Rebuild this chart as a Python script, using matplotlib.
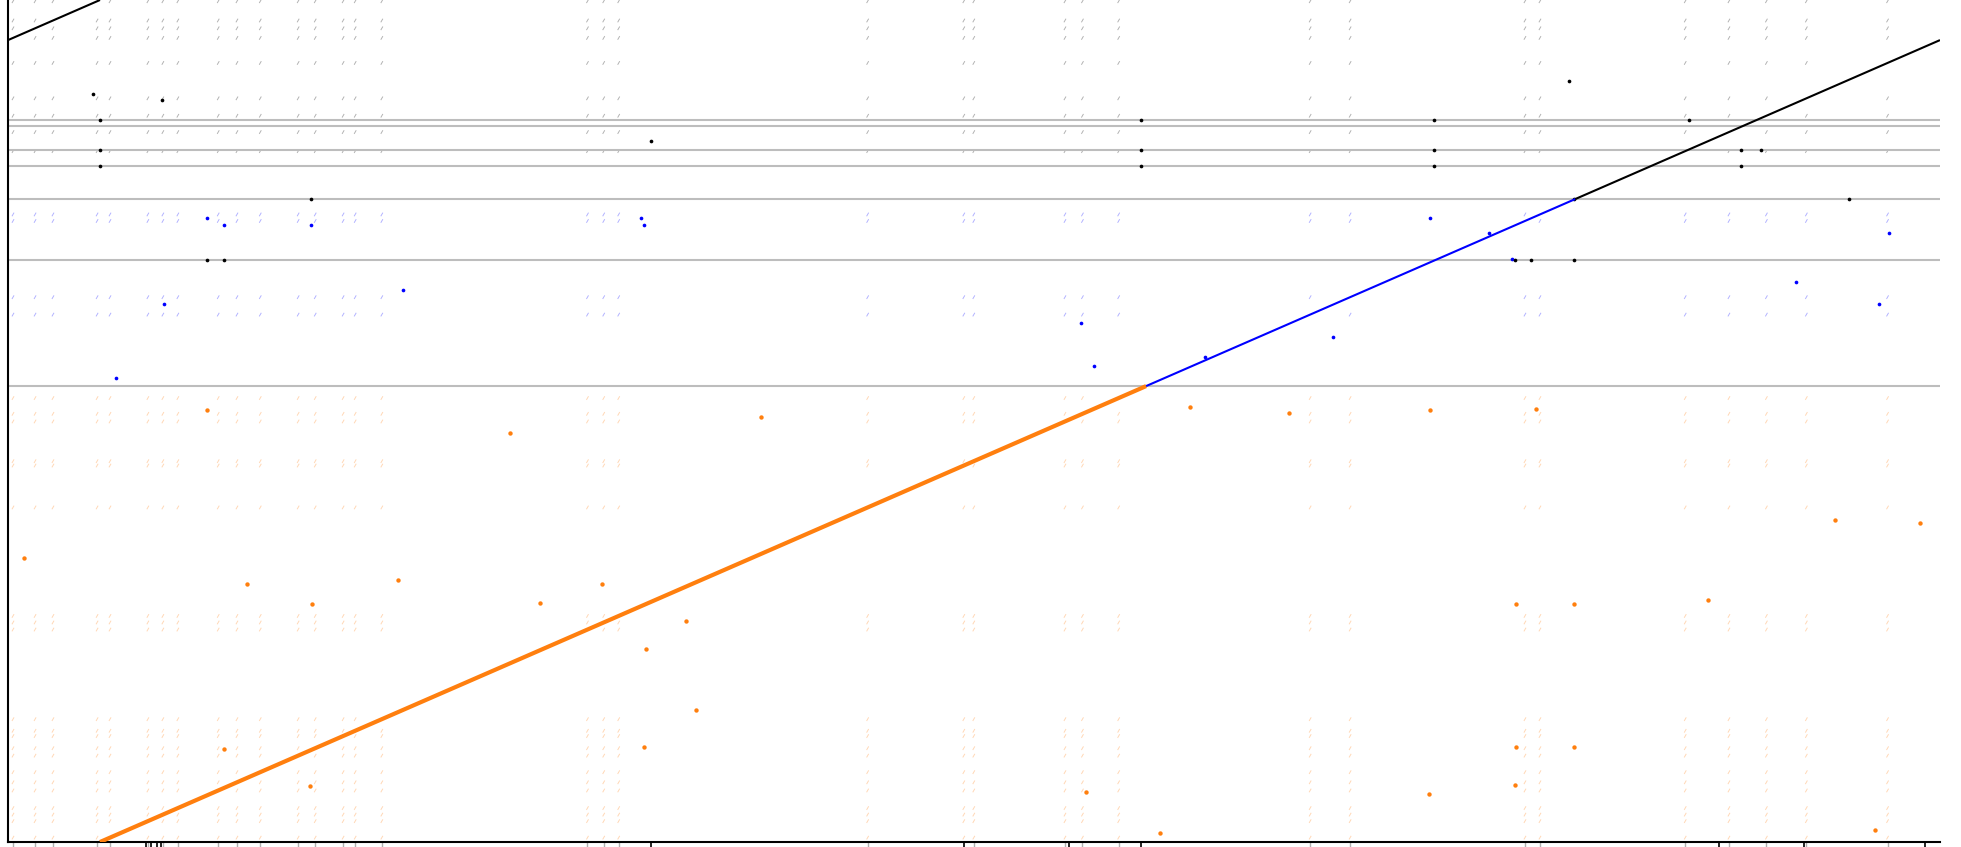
import matplotlib
matplotlib.use("Agg")
import matplotlib.pyplot as plt
import numpy as np

# genome length (kb), both axes
genome_len = 4641

# main alignment blocks: x_start, x_end, y_start, y_end
blocks_x = [(221, 2734), (2734, 3765), (3765, 4641), (0, 221)]
blocks_y = [(0, 2513), (2513, 3544), (3544, 4420), (4420, 4641)]
block_colors = ["#ff7f0e", "#0000ff", "black", "black"]
block_widths = [3.0, 1.5, 1.5, 1.5]

# query contig boundaries (kb)
contig_breaks = [2513, 3208, 3544, 3726, 3814, 3947, 3980]

# x-axis ticks (kb)
major_ticks = [332, 344, 359, 368, 1545, 2296, 2548, 2722, 4110, 4314, 4605]

# repeat copies on the reference (kb) -> faint off-diagonal hits
repeat_pos = [12, 65, 108, 214, 245, 336, 372, 408, 505, 550, 606, 697, 738,
              805, 834, 898, 1392, 1431, 1467, 2065, 2296, 2320, 2539, 2581,
              2668, 3128, 3224, 3644, 3680, 4029, 4134, 4224, 4320, 4515]
repeat_offset = 221

# stronger hits
orange_x = [479, 1278, 1533, 731, 575, 518, 725, 1629, 1653, 1527, 3623, 3761,
            3623, 3761, 4083, 3413, 3620, 3671, 3077, 3416, 2590, 2768, 1206,
            38, 4389, 1810, 1428, 936, 4485, 4593, 2839]
orange_y = [2381, 1320, 1065, 1313, 1423, 514, 307, 1217, 728, 521, 521, 521,
            1313, 1313, 1334, 266, 314, 2388, 2367, 2381, 273, 52, 2257,
            1568, 1775, 2340, 1423, 1444, 66, 1761, 2395]
blue_x = [260, 479, 518, 729, 948, 1527, 2608, 2875, 3557, 3614, 4296, 4494,
          4518, 2578, 3182, 374, 1521, 3416]
blue_y = [2560, 3442, 3401, 3401, 3043, 3401, 2622, 2671, 3359, 3215, 3084,
          2967, 3359, 2863, 2781, 2967, 3442, 3442]
black_x = [221, 221, 221, 479, 518, 729, 1545, 2722, 2722, 2722, 3425, 3425,
           3425, 3620, 3659, 3761, 4164, 4164, 4212, 4422, 3761, 203, 371,
           4037, 3749]
black_y = [3980, 3814, 3725, 3208, 3208, 3546, 3862, 3980, 3814, 3725, 3980,
           3814, 3725, 3208, 3208, 3208, 3814, 3725, 3814, 3545, 3545, 4124,
           4090, 3980, 4193]


def region_color(y):
    if y < contig_breaks[0]:
        return "#ff7f0e"
    if y < contig_breaks[2]:
        return "#0000ff"
    return "black"


fig = plt.figure(figsize=(19.61, 8.47), dpi=100)
ax = fig.add_axes([8 / 1961, 5 / 847, 1932 / 1961, 842 / 847])

# faint repeat grid, drawn as tiny diagonal dashes
fx, fy, fc = [], [], []
for rx in repeat_pos:
    for ry in repeat_pos:
        if rx == ry:
            continue
        qy = (ry - repeat_offset) % genome_len
        fx.append(rx)
        fy.append(qy)
        fc.append(region_color(qy))
ax.scatter(fx, fy, s=9, c=fc, marker=(2, 0, -30), alpha=0.3,
           linewidths=0.7, zorder=1)

for yb in contig_breaks:
    ax.axhline(yb, color="#bdbdbd", lw=1.5, zorder=2)

ax.scatter(orange_x, orange_y, s=10, color="#ff7f0e", linewidths=0, zorder=3)
ax.scatter(blue_x, blue_y, s=7, color="#0000ff", linewidths=0, zorder=3)
ax.scatter(black_x, black_y, s=7, color="black", linewidths=0, zorder=3)

for (x0, x1), (y0, y1), c, w in zip(blocks_x, blocks_y, block_colors, block_widths):
    ax.plot([x0, x1], [y0, y1], color=c, lw=w, solid_capstyle="butt", zorder=4)

ax.set_xlim(0, genome_len)
ax.set_ylim(0, genome_len)
ax.spines["top"].set_visible(False)
ax.spines["right"].set_visible(False)
ax.spines["left"].set_linewidth(1.5)
ax.spines["bottom"].set_linewidth(1.5)

ax.set_xticks(major_ticks)
ax.set_xticks(repeat_pos, minor=True)
ax.tick_params(axis="x", which="major", length=5, width=1.2, color="black",
               labelbottom=False)
ax.tick_params(axis="x", which="minor", length=5, width=1, color="#b0b0b0")
ax.set_yticks([])

fig.savefig("out.png", dpi=100)
